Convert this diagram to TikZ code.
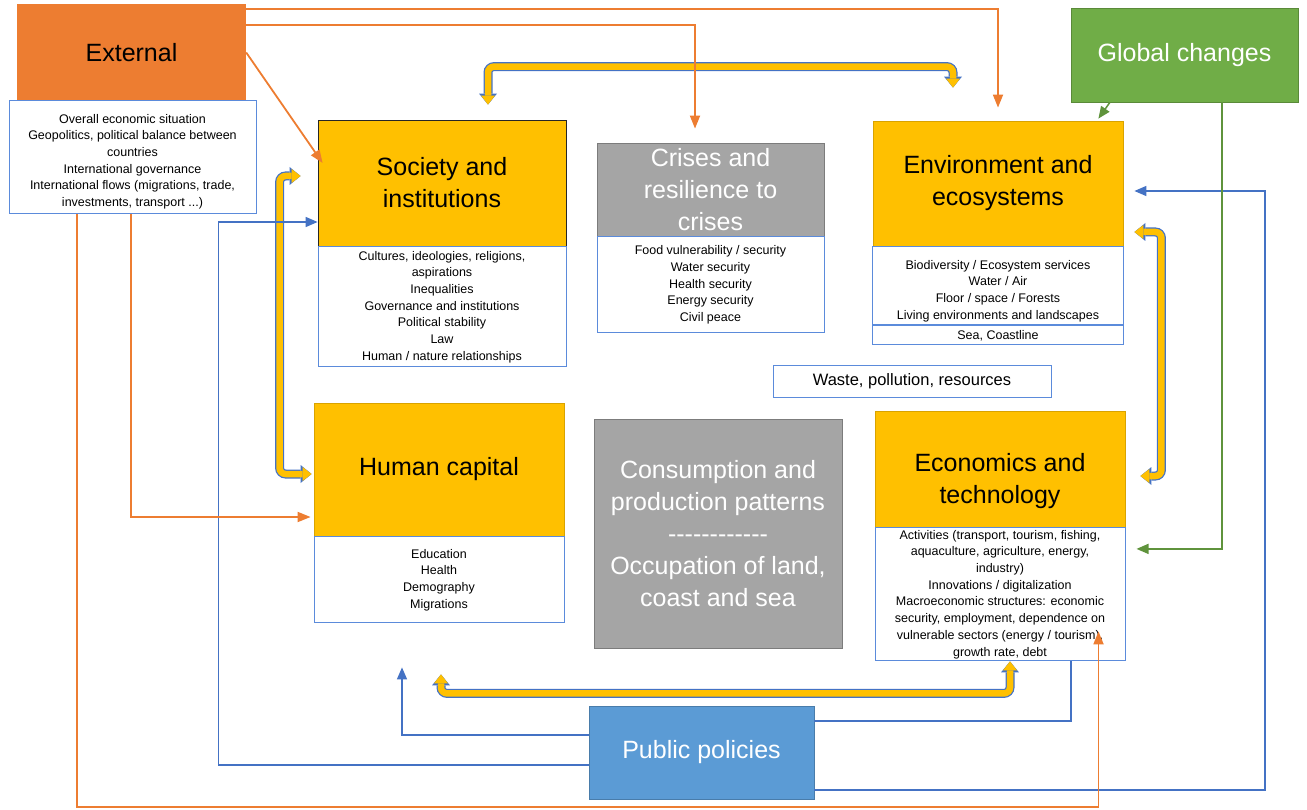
\documentclass[tikz,border=0pt]{standalone}
\usepackage{fontspec}
\setmainfont{Liberation Sans}
\usetikzlibrary{positioning,arrows.meta}
\definecolor{extorange}{HTML}{ED7D31}
\definecolor{boxyellow}{HTML}{FFC000}
\definecolor{boxgrey}{HTML}{A5A5A5}
\definecolor{boxgreen}{HTML}{70AD47}
\definecolor{polblue}{HTML}{5B9BD5}
\definecolor{linkblue}{HTML}{4472C4}
\definecolor{listblue}{HTML}{5B8BDB}

\begin{document}
\begin{tikzpicture}[x=1pt,y=-1pt,
    big/.style = {font=\fontsize{25}{32}\selectfont, align=center, inner sep=0pt},
    theme/.style = {big, fill=boxyellow, draw=boxyellow!85!black, line width=0.8pt},
    grey/.style = {big, fill=boxgrey, draw=boxgrey!75!black, line width=0.8pt, text=white},
    list/.style = {draw=listblue, fill=white, line width=1pt, align=center, inner sep=0pt, font=\fontsize{12.5}{16.7}\selectfont},
    orl/.style = {draw=extorange, line width=1.8pt, -{Triangle[length=13pt,width=10pt]}},
    bll/.style = {draw=linkblue, line width=1.5pt, -{Triangle[length=12pt,width=10pt]}},
    grl/.style = {draw=boxgreen!85!black, line width=1.5pt, -{Triangle[length=12pt,width=10pt]}},
    fat/.style = {draw=boxyellow, line width=6.5pt, rounded corners=6pt,
        {Triangle[length=9pt,width=14pt,line width=0pt]}-{Triangle[length=9pt,width=14pt,line width=0pt]},
        preaction={draw=linkblue, line width=9pt,
        {Triangle[length=11pt,width=18pt,line width=0pt]}-{Triangle[length=11pt,width=18pt,line width=0pt]}}}]

                        \useasboundingbox (0,0) rectangle (1307,810);

                        \node[big, fill=extorange, minimum width=229pt, minimum height=97pt](ext) at (131.5,52.5){External};
                        \node[list, minimum width=247pt, minimum height=113pt](extd) at (132.5,157.5){\mbox{}\\[0.5pt]Overall economic situation\\Geopolitics, political balance between\\countries\\International governance\\International flows (migrations, trade,\\investments, transport ...)};

                        \node[theme, draw=black!85, minimum width=248pt, minimum height=126pt](soc) at (442,183){Society and\\institutions};
                        \node[list, minimum width=248pt, minimum height=120pt](socd)[below=0pt of soc]{Cultures, ideologies, religions,\\aspirations\\Inequalities\\Governance and institutions\\Political stability\\Law\\Human / nature relationships};

                        \node[grey, minimum width=227pt, minimum height=93pt](cri) at (710.5,189.5){Crises and\\resilience to\\crises};
                        \node[list, minimum width=227pt, minimum height=96pt](crid)[below=0pt of cri]{Food vulnerability / security\\Water security\\Health security\\Energy security\\Civil peace};

                        \node[theme, minimum width=250pt, minimum height=125pt](env) at (998,183.5){Environment and\\ecosystems};
                        \node[list, minimum width=251pt, minimum height=78pt](envd)[below=0pt of env]{\mbox{}\\[2.5pt]Biodiversity / Ecosystem services\\Water / Air\\Floor / space / Forests\\Living environments and landscapes};
                        \node[list, minimum width=251pt, minimum height=19pt](envs)[below=0pt of envd]{Sea, Coastline};

                        \node[list, font=\fontsize{16.5}{20}\selectfont, minimum width=278pt, minimum height=31pt](waste) at (912,381.5){Waste, pollution, resources};

                        \node[theme, minimum width=250pt, minimum height=133pt](hum) at (439,469.5){Human capital};
                        \node[list, minimum width=250pt, minimum height=86pt](humd)[below=0pt of hum]{Education\\Health\\Demography\\Migrations};

                        \node[grey, minimum width=248pt, minimum height=229pt](con) at (718,533.5){Consumption and\\production patterns\\-{}-{}-{}-{}-{}-{}-{}-{}-{}-{}-{}-\\Occupation of land,\\coast and sea};

                        \node[theme, minimum width=250pt, minimum height=116pt](eco) at (1000,469){\mbox{}\\[10.5pt]Economics and\\technology};
                        \node[list, minimum width=250pt, minimum height=133pt](ecod)[below=0pt of eco]{Activities (transport, tourism, fishing,\\aquaculture, agriculture, energy,\\industry)\\Innovations / digitalization\\Macroeconomic structures: economic\\security, employment, dependence on\\vulnerable sectors (energy / tourism),\\growth rate, debt};

                        \node[big, fill=boxgreen, draw=boxgreen!80!black, text=white, minimum width=227pt, minimum height=94pt](glob) at (1184.5,55){Global changes};
                        \node[big, fill=polblue, draw=polblue!80!black, text=white, minimum width=225pt, minimum height=93pt](pub) at (701.5,752.5){Public policies};

                        \coordinate (ytop) at ([yshift=53pt]soc.north);
                        \coordinate (ya) at ([xshift=46pt,yshift=15pt]soc.north);
                        \coordinate (yb) at ([xshift=-45pt,yshift=33pt]env.north);
                        \coordinate (yc) at ([xshift=-17pt,yshift=7pt]soc.west);
                        \coordinate (yd) at ([xshift=-2pt,yshift=-4.5pt]hum.west);
                        \coordinate (yl) at ([xshift=-38pt]soc.west);
                        \coordinate (ye) at ([xshift=11pt,yshift=-48.5pt]env.east);
                        \coordinate (yf) at ([xshift=15pt,yshift=-7pt]eco.east);
                        \coordinate (yr) at ([xshift=38pt]env.east);
                        \coordinate (yg) at ([xshift=2pt,yshift=-51pt]humd.south);
                        \coordinate (yh) at ([xshift=10pt]ecod.south);
                        \coordinate (ybot) at ([yshift=-32pt]ecod.south);

                        \draw[fat] (ya) -- (ya |- ytop) -| (yb);
                        \draw[fat] (yc) -- (yl |- yc) -- (yl |- yd) -- (yd);
                        \draw[fat] (ye) -- (yr |- ye) -- (yr |- yf) -- (yf);
                        \draw[fat] (yg) -- (yg |- ybot) -- (yh |- ybot) -- (yh);

                        \coordinate (penv) at ([xshift=11pt,yshift=-7.5pt]env.east);
                        \coordinate (pr) at ([xshift=451pt]pub.east);
                        \coordinate (psoc) at ([yshift=-39pt]soc.west);
                        \coordinate (pl) at ([xshift=-99pt]soc.west);

                        \draw[bll] ([yshift=-37.5pt]pub.east) -| (pr |- penv) -- (penv);
                        \draw[bll,-] ([yshift=31.5pt]pub.east) -| ([xshift=71pt]ecod.south);
                        \draw[bll] ([yshift=17.5pt]pub.west) -| ([xshift=-37pt,yshift=-44pt]humd.south);
                        \draw[bll] ([yshift=-12.5pt]pub.west) -| (pl |- psoc) -- (psoc);

                        \draw[grl] ([xshift=-74.5pt]glob.south) -- ([xshift=-25pt,yshift=2pt]env.north east);
                        \draw[grl] ([xshift=37.5pt]glob.south) |- ([xshift=11pt,yshift=45.5pt]ecod.east);

                        \coordinate (obot) at ([yshift=-8pt]pub.south);

                        \draw[orl] (ext.east) -- ([xshift=5pt,yshift=20pt]soc.west);
                        \draw[orl] ([yshift=-21pt]ext.north east) -| ([xshift=-15.5pt,yshift=14pt]cri.north);
                        \draw[orl] ([yshift=-5pt]ext.north east) -| ([yshift=13pt]env.north);
                        \draw[orl] ([xshift=-1.5pt]extd.south) |- ([xshift=-3pt,yshift=-47.5pt]hum.west);
                        \draw[orl] ([xshift=-55.5pt]extd.south) |- (obot) -| ([xshift=-27pt,yshift=30pt]ecod.south east);
                    \end{tikzpicture}
\end{document}
